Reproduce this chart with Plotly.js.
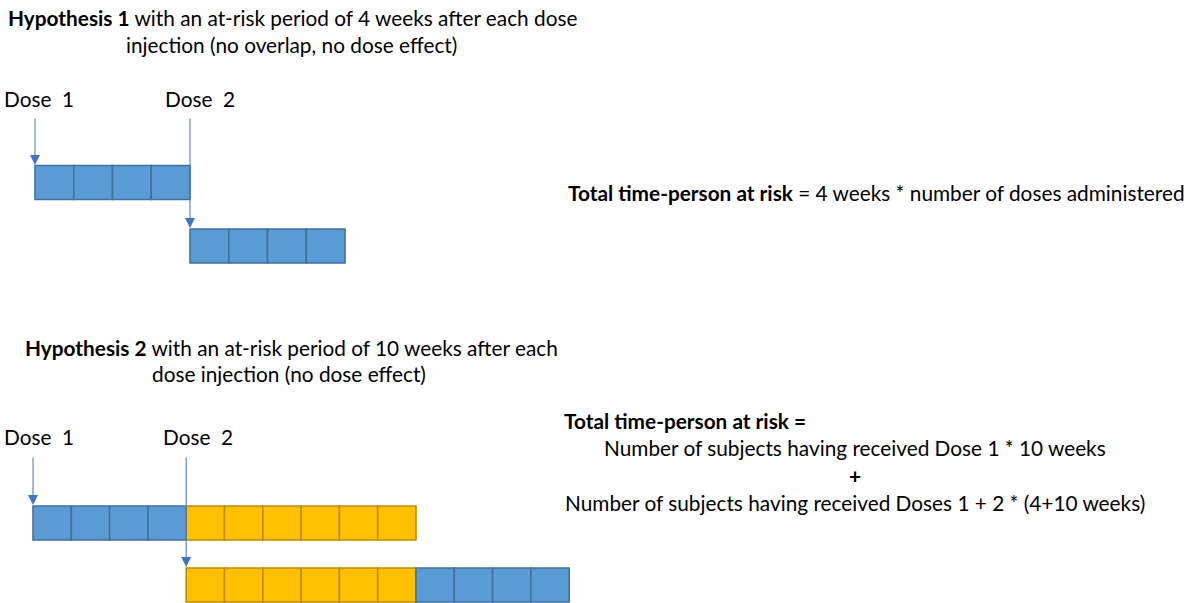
<!DOCTYPE html>
<html>
<head>
<meta charset="utf-8">
<script src="https://cdn.plot.ly/plotly-3.0.1.min.js"></script>
<style>html,body{margin:0;padding:0;background:#fff;}#chart{width:1189px;height:603px;}</style>
</head>
<body>
<div id="chart"></div>
<script>
// ---- data (weeks) ----
const doseWeeks = [0, 4];
const doseLabels = ['Dose&nbsp; 1', 'Dose&nbsp; 2'];
// Hypothesis 1: 4-week at-risk period after each dose
const h1Dose1Weeks = [0, 1, 2, 3];
const h1Dose2Weeks = [4, 5, 6, 7];
// Hypothesis 2: 10-week at-risk period after each dose
const h2Dose1Blue = [0, 1, 2, 3];
const h2Dose1Yellow = [4, 5, 6, 7, 8, 9];
const h2Dose2Yellow = [4, 5, 6, 7, 8, 9];
const h2Dose2Blue = [10, 11, 12, 13];

// ---- layout constants ----
const W = 1189, H = 603;
const ROW = {h1a: 182.5, h1b: 246, h2a: 523, h2b: 585};
const BOX_H = 34;
const BLUE = '#5B9BD5', BLUE_LINE = '#41719C';
const YEL = '#FFC000', YEL_LINE = '#BC8C00';
const FONT = 'Lato, "Open Sans", sans-serif';
const FS = 20.8;

function boxes(weeks, row, fill, line, xaxis) {
  return {
    type: 'bar', orientation: 'h',
    x: weeks.map(() => 1), base: weeks, y: weeks.map(() => row),
    width: BOX_H, xaxis: xaxis, yaxis: 'y',
    marker: {color: fill, line: {color: line, width: 1.6}},
    hoverinfo: 'skip', showlegend: false
  };
}

const traces = [
  boxes(h1Dose1Weeks, ROW.h1a, BLUE, BLUE_LINE, 'x'),
  boxes(h1Dose2Weeks, ROW.h1b, BLUE, BLUE_LINE, 'x'),
  boxes(h2Dose1Blue, ROW.h2a, BLUE, BLUE_LINE, 'x2'),
  boxes(h2Dose1Yellow, ROW.h2a, YEL, YEL_LINE, 'x2'),
  boxes(h2Dose2Yellow, ROW.h2b, YEL, YEL_LINE, 'x2'),
  boxes(h2Dose2Blue, ROW.h2b, BLUE, BLUE_LINE, 'x2')
];

const px = x => x / W;
const py = y => 1 - y / H;
function txt(text, x, y, xanchor) {
  return {text: text, xref: 'paper', yref: 'paper', x: px(x), y: py(y),
    xanchor: xanchor || 'center', yanchor: 'middle', showarrow: false,
    font: {family: FONT, size: FS, color: '#000'}};
}
function arrow(xref, week, tipY, tailY) {
  return {text: '', xref: xref, yref: 'y', x: week, y: tipY, axref: 'pixel', ayref: 'pixel',
    ax: 0, ay: -(tipY - tailY), showarrow: true, arrowhead: 2, arrowsize: 2,
    arrowwidth: 1, arrowcolor: '#4472C4', standoff: 0};
}

const annotations = [
  txt('<b>Hypothesis 1</b> with an at-risk period of 4 weeks after each dose', 292, 18),
  txt('injection (no overlap, no dose effect)', 291, 45),
  txt(doseLabels[0], 2, 98, 'left'),
  txt(doseLabels[1], 163, 98, 'left'),
  txt('<b>Total time-person at risk</b> = 4 weeks * number of doses administered', 1187, 192, 'right'),
  txt('<b>Hypothesis 2</b> with an at-risk period of 10 weeks after each', 291, 347),
  txt('dose injection (no dose effect)', 289, 374),
  txt(doseLabels[0], 2, 436, 'left'),
  txt(doseLabels[1], 161, 436, 'left'),
  txt('<b>Total time-person at risk =</b>', 562, 420, 'left'),
  txt('Number of subjects having received Dose 1 * 10 weeks', 855, 448),
  txt('<b>+</b>', 855, 475),
  txt('Number of subjects having received Doses 1 + 2 * (4+10 weeks)', 855, 502),
  arrow('x', doseWeeks[0], 165, 117),
  arrow('x', doseWeeks[1], 228, 117),
  arrow('x2', doseWeeks[0], 505, 456),
  arrow('x2', doseWeeks[1], 567, 456)
];

const axisOff = {showgrid: false, zeroline: false, showticklabels: false, ticks: '', showline: false, fixedrange: true};
const layout = {
  width: W, height: H,
  margin: {l: 0, r: 0, t: 0, b: 0, pad: 0},
  paper_bgcolor: '#fff', plot_bgcolor: '#fff',
  barmode: 'overlay', bargap: 0,
  xaxis: Object.assign({range: [-35 / 38.75, (W - 35) / 38.75]}, axisOff),
  xaxis2: Object.assign({range: [-33 / 38.3, (W - 33) / 38.3], overlaying: 'x', anchor: 'y'}, axisOff),
  yaxis: Object.assign({range: [H, 0]}, axisOff),
  annotations: annotations
};

Plotly.newPlot('chart', traces, layout, {staticPlot: true, displayModeBar: false});
</script>
</body>
</html>
